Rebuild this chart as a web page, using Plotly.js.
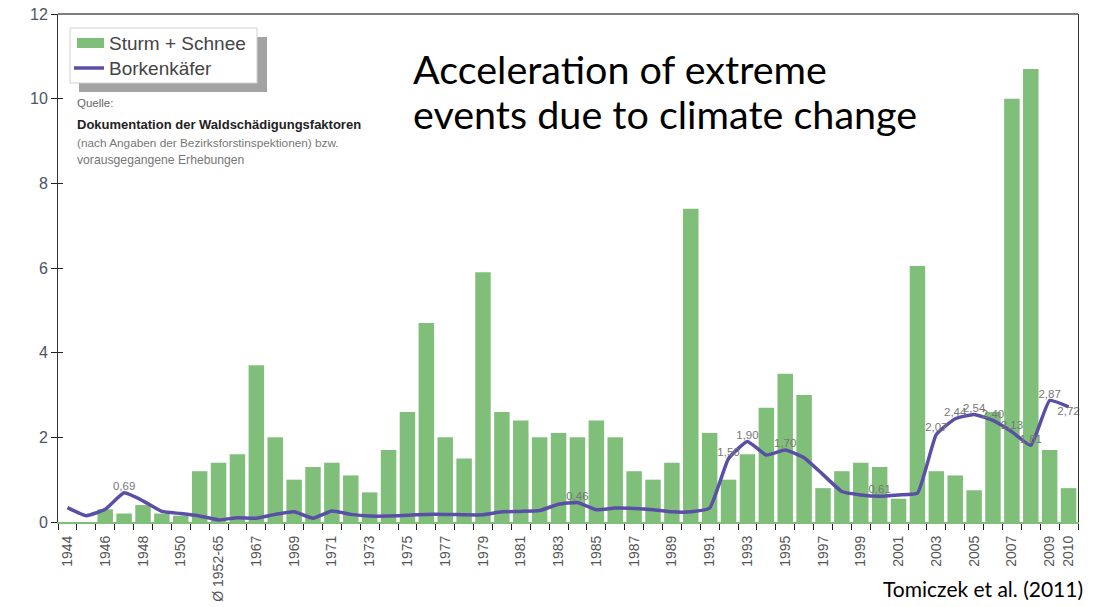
<!DOCTYPE html>
<html><head><meta charset="utf-8">
<script src="https://cdn.plot.ly/plotly-3.0.1.min.js"></script>
<style>html,body{margin:0;padding:0;background:#fff}#chart{width:1094px;height:607px}</style>
</head><body><div id="chart"></div>
<script>
const categories = ["1944","1945","1946","1947","1948","1949","1950","1951","Ø 1952-65","1966",
"1967","1968","1969","1970","1971","1972","1973","1974","1975","1976",
"1977","1978","1979","1980","1981","1982","1983","1984","1985","1986",
"1987","1988","1989","1990","1991","1992","1993","1994","1995","1996",
"1997","1998","1999","2000","2001","2002","2003","2004","2005","2006",
"2007","2008","2009","2010"];
const tickLabels = ["1944","","1946","","1948","","1950","","Ø 1952-65","",
"1967","","1969","","1971","","1973","","1975","",
"1977","","1979","","1981","","1983","","1985","",
"1987","","1989","","1991","","1993","","1995","",
"1997","","1999","","2001","","2003","","2005","",
"2007","","2009","2010"];
const sturmSchnee = [0,0,0.3,0.2,0.4,0.2,0.15,1.2,1.4,1.6,
3.7,2.0,1.0,1.3,1.4,1.1,0.7,1.7,2.6,4.7,
2.0,1.5,5.9,2.6,2.4,2.0,2.1,2.0,2.4,2.0,
1.2,1.0,1.4,7.4,2.1,1.0,1.6,2.7,3.5,3.0,
0.8,1.2,1.4,1.3,0.55,6.05,1.2,1.1,0.75,2.6,
10.0,10.7,1.7,0.8];
const borkenkaefer = [0.34,0.15,0.3,0.69,0.5,0.25,0.2,0.14,0.05,0.1,
0.09,0.18,0.24,0.09,0.26,0.18,0.14,0.14,0.16,0.18,
0.18,0.17,0.17,0.24,0.25,0.27,0.42,0.46,0.29,0.33,
0.32,0.29,0.24,0.24,0.33,1.50,1.90,1.58,1.70,1.52,
1.12,0.72,0.64,0.61,0.64,0.68,2.07,2.44,2.54,2.40,
2.13,1.81,2.87,2.72];
const borkenLabels = ["","","","0,69","","","","","","",
"","","","","","","","","","",
"","","","","","","","0,46","","",
"","","","","","1,50","1,90","","1,70","",
"","","","0,61","","","2,07","2,44","2,54","2,40",
"2,13","1,81","2,87","2,72"];
const legendNames = ["Sturm + Schnee", "Borkenkäfer"];
const sourceLines = ["Quelle:", "Dokumentation der Waldschädigungsfaktoren",
 "(nach Angaben der Bezirksforstinspektionen) bzw.", "vorausgegangene Erhebungen"];
const titleLines = ["Acceleration of extreme", "events due to climate change"];
const credit = "Tomiczek et al. (2011)";

const labelPos = borkenLabels.map((t,i)=> i===categories.length-1 ? "bottom center" : "top center");

const L=58, R=1078, T=14, B=522;
const fx = px => (px-L)/(R-L);
const fy = py => (B-py)/(B-T);
const narrow = "Liberation Sans Narrow, Arial Narrow, Liberation Sans, sans-serif";
const sans = "Liberation Sans, Arial, sans-serif";
const cal = "Lato, Carlito, Calibri, sans-serif";
const green = "#7fbf79", purple = "#5a4fa6";

const traces = [
 {type:"bar", name:legendNames[0], x:categories, y:sturmSchnee,
  marker:{color:green}, showlegend:false},
 {type:"scatter", mode:"lines+text", name:legendNames[1], x:categories, y:borkenkaefer,
  line:{color:purple, width:3.5, shape:"spline", smoothing:0.4},
  text:borkenLabels, textposition:labelPos,
  textfont:{family:narrow, size:11.5, color:"#777"}, cliponaxis:false, showlegend:false},
 {type:"scatter", x:[categories[0]], y:[0], yaxis:"y2", showlegend:false, hoverinfo:"skip",
  mode:"markers", marker:{opacity:0}}
];

const ann = (px, py, text, font, xanchor) => ({xref:"paper", yref:"paper", x:fx(px), y:fy(py),
  xanchor:xanchor||"left", yanchor:"middle", align:"left", showarrow:false, text:text, font:font});

const layout = {
 width:1094, height:607,
 margin:{l:L, r:1094-R, t:T, b:607-B},
 paper_bgcolor:"#fff", plot_bgcolor:"#fff",
 bargap:0.18,
 showlegend:false,
 xaxis:{type:"category", categoryorder:"array", categoryarray:categories, range:[-0.5, categories.length-0.5],
   tickvals:categories, ticktext:tickLabels, tickangle:-90, tickson:"boundaries", ticklabelstandoff:6,
   ticks:"outside", ticklen:6, tickcolor:"#222", showline:true, linecolor:green, linewidth:2,
   tickfont:{family:narrow, size:14, color:"#555"}, showgrid:false, zeroline:false},
 yaxis:{range:[0,12], tickvals:[0,2,4,6,8,10,12], ticks:"outside", ticklen:6, tickcolor:"#222",
   showline:true, linecolor:"#333", linewidth:1, mirror:true, showgrid:false, zeroline:false,
   tickfont:{family:sans, size:16, color:"#4d5566"}},
 yaxis2:{range:[0,12], overlaying:"y", side:"left", tickvals:[0,2,4,6,8,10,12], ticks:"inside", ticklen:5,
   tickcolor:"#222", showticklabels:false, showgrid:false, zeroline:false, showline:false},
 shapes:[
  {type:"line", xref:"paper", yref:"paper", x0:0, x1:1, y0:1, y1:1, line:{color:"#555", width:1.5}},
  {type:"rect", xref:"paper", yref:"paper", x0:fx(79), x1:fx(267), y0:fy(92), y1:fy(37),
   fillcolor:"#a3a3a3", line:{width:0}, layer:"below"},
  {type:"rect", xref:"paper", yref:"paper", x0:fx(70), x1:fx(257), y0:fy(83), y1:fy(28),
   fillcolor:"#fff", line:{color:"#d0d0d0", width:1}, layer:"below"},
  {type:"rect", xref:"paper", yref:"paper", x0:fx(77), x1:fx(104), y0:fy(48), y1:fy(38),
   fillcolor:green, line:{width:0}},
  {type:"line", xref:"paper", yref:"paper", x0:fx(74), x1:fx(104), y0:fy(68), y1:fy(68),
   line:{color:purple, width:3.5}}
 ],
 annotations:[
  ann(107, 43, legendNames[0], {family:sans, size:19, color:"#444"}),
  ann(107, 68, legendNames[1], {family:sans, size:19, color:"#444"}),
  ann(411, 68, titleLines[0], {family:cal, size:39.5, color:"#000"}),
  ann(411, 114, titleLines[1], {family:cal, size:39.5, color:"#000"}),
  ann(1085, 588, credit, {family:cal, size:21, color:"#000"}, "right"),
  ann(75, 103, sourceLines[0], {family:narrow, size:11.5, color:"#666"}),
  ann(75, 125, "<b>"+sourceLines[1]+"</b>", {family:narrow, size:13, color:"#222"}),
  ann(75, 143, sourceLines[2], {family:narrow, size:11.8, color:"#777"}),
  ann(75, 160, sourceLines[3], {family:narrow, size:12.2, color:"#777"})
 ]
};
Plotly.newPlot("chart", traces, layout, {staticPlot:true, displayModeBar:false});
</script></body></html>
